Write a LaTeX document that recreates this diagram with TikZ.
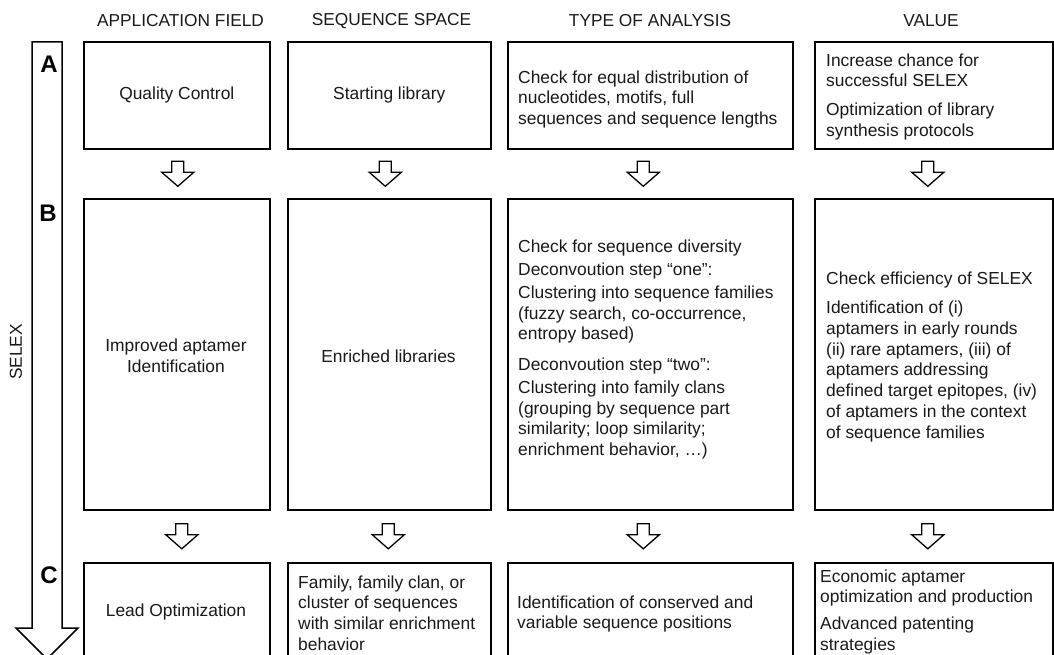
\documentclass[tikz,border=0pt]{standalone}
\usepackage{fontspec}
\setmainfont{Liberation Sans}
\usetikzlibrary{calc}

% hollow block arrow between two stacked stage boxes (#3 = horizontal shift)
\newcommand\stagearrow[3]{%
  \draw[flowarrow] ($(#1.south)!0.5!(#2.north)+(#3,0)$)
    ++(-6,-12.5) -- ++(12,0) -- ++(0,11) -- ++(10,0) -- ++(-16,14)
    -- ++(-16,-14) -- ++(10,0) -- cycle;}

\begin{document}
\begin{tikzpicture}[x=1pt,y=-1pt,
  stagebox/.style={draw, line width=1.6pt, inner sep=0pt, anchor=north west},
  body/.style={font=\fontsize{17.4}{20.7}\selectfont, inner sep=0pt, text=black!90},
  para/.style={body, align=left, anchor=north west},
  heading/.style={font=\fontsize{17.3}{20}\selectfont, inner sep=0pt, text=black!90},
  phase/.style={font=\fontsize{24}{28}\selectfont\bfseries, inner sep=0pt},
  flowarrow/.style={draw, line width=1.3pt, fill=white, line join=miter}]

\clip (0,0) rectangle (1054,655);

% column headings
\node[heading] (h1) at (180.5,21) {APPLICATION FIELD};
\node[heading] (h2) at (391.5,21) {SEQUENCE SPACE};
\node[heading] (h3) at (650,21)   {TYPE OF ANALYSIS};
\node[heading] (h4) at (931,21)   {VALUE};

% SELEX progression arrow with phase letters
\draw[flowarrow, line width=1.5pt] (32,42) -- (62,42) -- (62,628) -- (78,628)
  -- (47,659) -- (16,628) -- (32,628) -- cycle;
\node[phase] (pA) at (49,64)    {A};
\node[phase] (pB) at (48,213)   {B};
\node[phase] (pC) at (49,575.5) {C};
\node[heading, rotate=90] (selex) at (16,352) {SELEX};

% stage A
\node[stagebox, minimum width=186pt, minimum height=107pt] (a1) at (83,41)  {};
\node[stagebox, minimum width=203pt, minimum height=107pt] (a2) at (287,41) {};
\node[stagebox, minimum width=285pt, minimum height=107pt] (a3) at (507,41) {};
\node[stagebox, minimum width=238pt, minimum height=107pt] (a4) at (814,41) {};

% stage B
\node[stagebox, minimum width=186pt, minimum height=311pt] (b1) at (83,198)  {};
\node[stagebox, minimum width=203pt, minimum height=311pt] (b2) at (287,198) {};
\node[stagebox, minimum width=285pt, minimum height=311pt] (b3) at (507,198) {};
\node[stagebox, minimum width=238pt, minimum height=311pt] (b4) at (814,198) {};

% stage C
\node[stagebox, minimum width=186pt, minimum height=110pt] (c1) at (83,562)  {};
\node[stagebox, minimum width=203pt, minimum height=110pt] (c2) at (287,562) {};
\node[stagebox, minimum width=285pt, minimum height=110pt] (c3) at (507,562) {};
\node[stagebox, minimum width=238pt, minimum height=110pt] (c4) at (814,562) {};

% texts of stage A
\node[body] (ta1) at (a1.center) {Quality Control};
\node[body] (ta2) at (a2.center) {Starting library};
\node[para] (ta3) at (518,68.5) {\strut Check for equal distribution of\\
  nucleotides, motifs, full\\sequences and sequence lengths};
\node[para] (ta4) at (826,51.5) {\strut Increase chance for\\successful SELEX\\[8pt]
  Optimization of library\\synthesis protocols};

% texts of stage B
\node[body, align=center] (tb1) at (176,356) {Improved aptamer\\Identification};
\node[body] (tb2) at (388.5,356) {Enriched libraries};
\node[para] (tb3) at (518,237.5) {\strut Check for sequence diversity\\[3pt]
  Deconvoution step “one”:\\[2pt]
  Clustering into sequence families\\
  (fuzzy search, co-occurrence,\\
  entropy based)\\[10pt]
  Deconvoution step “two”:\\[2pt]
  Clustering into family clans\\
  (grouping by sequence part\\
  similarity; loop similarity;\\
  enrichment behavior, …)};
\node[para] (tb4) at (826,269.5) {\strut Check efficiency of SELEX\\[9pt]
  Identification of (i)\\
  aptamers in early rounds\\
  (ii) rare aptamers, (iii) of\\
  aptamers addressing\\
  defined target epitopes, (iv)\\
  of aptamers in the context\\
  of sequence families};

% texts of stage C
\node[body] (tc1) at (176,612) {Lead Optimization};
\node[para] (tc2) at (298,573.5) {\strut Family, family clan, or\\cluster of sequences\\
  with similar enrichment\\behavior};
\node[para] (tc3) at (517,593.5) {\strut Identification of conserved and\\
  variable sequence positions};
\node[para] (tc4) at (820,567.5) {\strut Economic aptamer\\optimization and production\\[6pt]
  Advanced patenting\\strategies};

% arrows between stages
\stagearrow{a1}{b1}{1}
\stagearrow{a2}{b2}{-4}
\stagearrow{a3}{b3}{-7}
\stagearrow{a4}{b4}{-6}
\stagearrow{b1}{c1}{5}
\stagearrow{b2}{c2}{-1}
\stagearrow{b3}{c3}{-7}
\stagearrow{b4}{c4}{-6}
\end{tikzpicture}
\end{document}
